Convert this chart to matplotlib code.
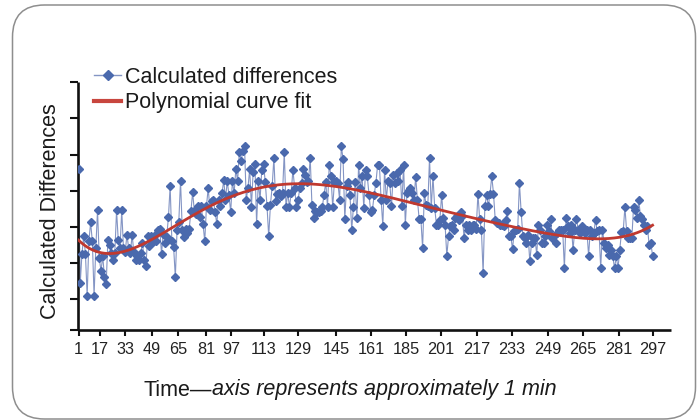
import numpy as np
import matplotlib
matplotlib.use("Agg")
import matplotlib.pyplot as plt
from matplotlib.patches import FancyBboxPatch
from matplotlib.transforms import IdentityTransform
from matplotlib.lines import Line2D

plt.rcParams['font.family'] = ['Liberation Sans', 'DejaVu Sans']

# Measured differences, one per sample, in sample order
calculated_differences = [
    48.2, 14.0, 22.8, 28.2, 22.8, 10.3, 26.5, 32.2, 26.5, 10.3, 24.5, 35.8, 21.5, 17.7, 22.0, 16.0,
    13.8, 27.0, 25.5, 23.0, 21.0, 23.0, 35.8, 26.8, 24.5, 35.8, 24.5, 23.2, 28.5, 24.5, 23.0, 28.5,
    23.2, 21.0, 22.2, 21.0, 23.0, 26.0, 21.0, 19.2, 28.0, 25.0, 28.2, 26.2, 28.4, 26.5, 30.0, 30.2,
    22.8, 28.8, 26.0, 27.8, 33.8, 43.0, 26.5, 24.8, 15.8, 30.0, 32.4, 44.7, 30.0, 27.8, 30.2, 29.0,
    30.2, 35.5, 41.2, 35.5, 34.8, 37.2, 33.8, 37.2, 31.8, 26.5, 37.0, 42.5,
    36.0, 38.5, 39.0, 35.2, 31.7, 39.0, 37.2, 41.0, 44.8, 39.0, 44.5, 40.5, 35.2, 44.5, 41.0, 48.2,
    44.5, 53.2, 50.5, 53.5, 55.2, 39.0, 42.5, 48.2, 36.8, 47.2, 49.8, 31.8, 44.5, 39.0, 48.0, 49.8,
    44.2, 37.2, 28.0, 37.5, 43.0, 51.5, 38.5, 40.8, 41.0, 40.0, 41.0, 53.2, 36.8, 41.0, 36.8, 41.0,
    48.0, 42.5, 36.8, 39.0, 42.5, 44.0, 48.2, 46.5, 44.2, 44.5, 51.5, 37.5, 33.5, 35.5, 35.2, 35.2,
    35.5, 36.8, 40.5, 44.2, 36.8, 49.5, 46.2, 36.8, 44.2, 44.5, 44.0, 39.0, 55.0, 51.2, 33.2, 43.0,
    44.2, 40.5, 30.0, 36.8, 44.2,
    33.5, 49.5, 42.5, 46.0, 36.5, 48.0, 46.0, 40.5, 35.2, 36.0, 40.5, 44.0, 49.5, 49.5, 39.0, 31.2,
    48.0, 39.0, 44.5, 44.0, 37.0, 46.5, 44.0, 47.0, 44.5, 48.0, 37.0, 49.5, 31.5, 41.0, 42.0, 42.5,
    41.0, 39.0, 45.8, 39.0, 33.2, 33.2, 24.5, 41.0, 37.5, 37.0, 51.5, 36.5, 46.0, 36.5, 31.5, 31.5,
    33.0, 40.5, 33.5, 31.5, 22.2, 28.0, 31.2, 31.5, 30.0, 33.5, 34.2, 33.0, 35.2, 34.0, 27.5, 31.5,
    30.0, 31.5, 30.0, 31.5, 31.5, 30.2, 40.8, 33.2, 30.0, 17.0, 37.0, 40.5, 37.0, 40.8, 46.0, 40.8,
    33.0, 32.0, 32.0, 31.5, 31.5, 31.0,
    33.0, 35.5, 28.0, 28.0, 24.2, 29.5, 30.0, 30.2, 44.0, 35.2, 28.0, 27.5, 26.0, 28.5, 20.5, 26.0,
    27.5, 27.5, 22.5, 31.5, 30.0, 26.0, 26.0, 28.0, 31.5, 29.5, 33.2, 27.5, 28.0, 26.0, 29.0, 30.0,
    30.0, 30.0, 18.5, 33.5, 31.0, 29.0, 31.5, 24.0, 30.0, 33.2, 30.0, 29.0, 31.0, 30.0, 29.0, 30.0,
    22.2, 30.0, 28.0, 29.0, 33.0, 29.5, 30.0, 18.5, 30.0, 26.0, 24.5, 25.5, 22.5, 24.0, 22.0, 18.5,
    22.0, 18.5, 24.0, 29.2, 29.5, 36.8, 29.5, 27.5, 27.5, 27.5, 36.8, 36.0, 33.5, 38.8, 34.2, 33.2,
    31.5, 30.0, 31.0, 25.5, 26.0, 22.2,
]

# Time axis labels and where they sit along the sample span
time_labels = [1, 17, 33, 49, 65, 81, 97, 113, 129, 145, 161, 185, 201, 217, 233, 249, 265, 281, 297]
time_label_at = [1, 12.1, 25.0, 38.9, 52.3, 66.8, 79.6, 96.7, 114.2, 133.8, 151.8, 169.9,
                 187.9, 206.5, 224.6, 243.1, 261.2, 279.7, 297]
y_tick_at = [0, 9.2, 20.0, 30.9, 41.7, 52.5, 63.4, 74.2]

values = np.array(calculated_differences)
t = np.linspace(1, 297, len(values))

# 6th-order polynomial trend through the samples
coef = np.polyfit(t, values, 6)
t_fit = np.linspace(t[0], t[-1], 600)
fit = np.polyval(coef, t_fit)

W, H = 698, 420
fig = plt.figure(figsize=(W / 100, H / 100), dpi=100)
fig.patch.set_facecolor('white')

# rounded frame around the whole figure
frame = FancyBboxPatch((12.5, 1.0), 683.0, 414.0,
                       boxstyle='round,pad=0,rounding_size=32',
                       transform=IdentityTransform(), facecolor='none',
                       edgecolor='#8e8e8e', linewidth=1.1)
fig.patches.append(frame)

ax = fig.add_axes([77.5 / W, 1 - 330 / H, (671 - 77.5) / W, (330 - 82) / H])
ax.set_facecolor('none')

ax.plot(t, values, color='#8495c4', linewidth=0.8, zorder=2)
ax.plot(t, values, linestyle='none', marker='D', markersize=4.2,
        markerfacecolor='#4a69ad', markeredgecolor='#4a69ad', zorder=3)
ax.plot(t_fit, fit, color='#c0392f', linewidth=2.0, zorder=4)

ax.set_xlim(0.48, 306.5)
ax.set_ylim(0, 74.2)

for side in ('top', 'right'):
    ax.spines[side].set_visible(False)
for side in ('left', 'bottom'):
    ax.spines[side].set_linewidth(1.9)
    ax.spines[side].set_color('#111111')
    ax.spines[side].set_capstyle('butt')

ax.set_xticks(time_label_at)
ax.set_xticklabels([str(v) for v in time_labels], fontsize=11.7, color='#222222')
ax.set_yticks(y_tick_at)
ax.set_yticklabels([])
ax.tick_params(axis='x', direction='out', length=4.5, width=1.5, pad=4, color='#111111')
ax.tick_params(axis='y', direction='out', length=6, width=1.5, color='#111111')

fig.text(51 / W, 1 - 211 / H, 'Calculated Differences', rotation=90,
         ha='center', va='center', fontsize=15.5, color='#1a1a1a')

# legend
h_data = Line2D([], [], color='#8495c4', linewidth=1.0, marker='D', markersize=5.5,
                markerfacecolor='#4a69ad', markeredgecolor='#4a69ad')
h_fit = Line2D([], [], color='#c8463e', linewidth=3.0)
leg = fig.legend([h_data, h_fit], ['Calculated differences', 'Polynomial curve fit'],
                 loc='upper left', bbox_to_anchor=(94 / W, 1 - 67 / H),
                 bbox_transform=fig.transFigure, frameon=False, fontsize=15.5,
                 handlelength=1.26, handletextpad=0.2, labelspacing=0.2,
                 borderpad=0, borderaxespad=0, numpoints=1)
for txt in leg.get_texts():
    txt.set_color('#1a1a1a')

# x-axis title: upright lead word, italic remainder, centred as one line
y_title = 1 - 390 / H
t1 = fig.text(0, y_title, 'Time\u2014', ha='left', va='center', fontsize=15.5, color='#1a1a1a')
t2 = fig.text(0, y_title, 'axis represents approximately 1 min', ha='left', va='center',
              fontsize=15.5, style='italic', color='#1a1a1a')
fig.canvas.draw()
r = fig.canvas.get_renderer()
w1 = t1.get_window_extent(r).width
w2 = t2.get_window_extent(r).width
x_start = 350.5 - (w1 + w2) / 2
t1.set_x(x_start / W)
t2.set_x((x_start + w1) / W)

fig.savefig('out.png', dpi=100, facecolor='white')
